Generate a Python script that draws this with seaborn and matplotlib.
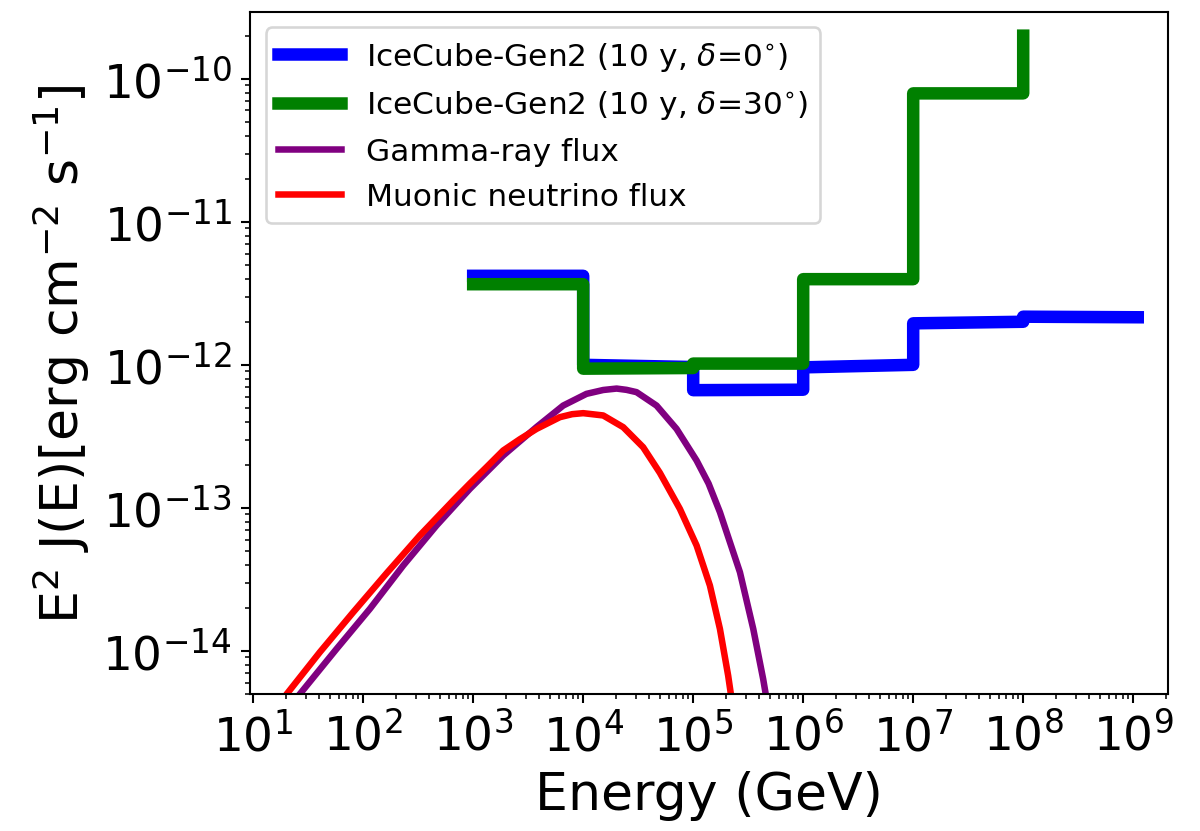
import numpy as np
import pandas as pd
import matplotlib
matplotlib.use("Agg")
import matplotlib.pyplot as plt
from matplotlib.ticker import LogLocator
import seaborn as sns

# =====================================
# DATA
# =====================================

# IceCube-Gen2 sensitivity, 10 y, declination 0 deg (per-decade bins)
icg2_dec0_E = [1e3, 1e4, 1e4, 1e5, 1e5, 1e6, 1e6, 1e7, 1e7, 1e8, 1e8, 1.1e9]
icg2_dec0_F = [4.19e-12, 4.19e-12, 1.0e-12, 0.965e-12, 6.65e-13, 6.7e-13,
               0.96e-12, 1.0e-12, 1.95e-12, 2.0e-12, 2.17e-12, 2.15e-12]

# IceCube-Gen2 sensitivity, 10 y, declination 30 deg
icg2_dec30_E = [1e3, 1e4, 1e4, 1e5, 1e5, 1e6, 1e6, 1e7, 1e7, 1e8, 1e8]
icg2_dec30_F = [3.66e-12, 3.66e-12, 0.94e-12, 0.95e-12, 1.02e-12, 1.02e-12,
                3.97e-12, 3.97e-12, 7.9e-11, 7.9e-11, 2.0e-10]

# gamma-ray flux (log10 E [GeV], log10 E^2 J [erg cm^-2 s^-1])
gamma_logE = [1.425, 1.758, 2.061, 2.364, 2.667, 2.970, 3.273, 3.576, 3.818, 4.030,
              4.182, 4.304, 4.394, 4.485, 4.667, 4.849, 5.031, 5.140, 5.243, 5.425,
              5.546, 5.636, 5.667]
gamma_logF = [-14.301, -13.986, -13.706, -13.403, -13.123, -12.867, -12.634, -12.435, -12.285, -12.203,
              -12.176, -12.166, -12.175, -12.191, -12.285, -12.448, -12.669, -12.830, -13.030, -13.450,
              -13.846, -14.196, -14.336]

# muonic neutrino flux
numu_logE = [1.318, 1.606, 1.909, 2.213, 2.515, 2.818, 2.970, 3.122, 3.273, 3.425,
             3.576, 3.788, 3.900, 4.000, 4.182, 4.364, 4.545, 4.697, 4.879, 5.031,
             5.152, 5.243, 5.318, 5.349]
numu_logF = [-14.289, -14.009, -13.730, -13.457, -13.193, -12.949, -12.830, -12.715, -12.599, -12.520,
             -12.448, -12.366, -12.345, -12.338, -12.354, -12.436, -12.576, -12.755, -13.007, -13.263,
             -13.543, -13.846, -14.173, -14.336]

# =====================================
# PLOT
# =====================================

fig, ax = plt.subplots(figsize=(6.4, 4.4373), dpi=187.5)
fig.subplots_adjust(left=0.2083, right=0.9733, top=0.9847, bottom=0.1647)

blue = pd.DataFrame({"E": icg2_dec0_E, "F": icg2_dec0_F})
green = pd.DataFrame({"E": icg2_dec30_E, "F": icg2_dec30_F})
gamma = pd.DataFrame({"E": 10 ** np.array(gamma_logE), "F": 10 ** np.array(gamma_logF)})
numu = pd.DataFrame({"E": 10 ** np.array(numu_logE), "F": 10 ** np.array(numu_logF)})

sns.lineplot(data=blue, x="E", y="F", ax=ax, color="blue", lw=4.8, sort=False,
             estimator=None, label=r"IceCube-Gen2 (10 y, $\delta$=0$^{\circ}$)")
sns.lineplot(data=green, x="E", y="F", ax=ax, color="green", lw=4.8, sort=False,
             estimator=None, label=r"IceCube-Gen2 (10 y, $\delta$=30$^{\circ}$)")
sns.lineplot(data=gamma, x="E", y="F", ax=ax, color="purple", lw=2.5, sort=False,
             estimator=None, label="Gamma-ray flux")
sns.lineplot(data=numu, x="E", y="F", ax=ax, color="red", lw=2.5, sort=False,
             estimator=None, label="Muonic neutrino flux")

ax.set_xscale("log")
ax.set_yscale("log")
ax.set_xlim(9.35, 2.07e9)
ax.set_ylim(5.0e-15, 2.94e-10)

# one labelled tick per decade on the x axis
ax.xaxis.set_major_locator(LogLocator(base=10, numticks=20))
ax.xaxis.set_minor_locator(LogLocator(base=10, subs=np.arange(2, 10), numticks=20))

ax.set_xlabel("Energy (GeV)", fontsize=20)
ax.set_ylabel(r"E$^2$ J(E)[erg cm$^{-2}$ s$^{-1}$]", fontsize=20)
ax.tick_params(axis="both", which="major", labelsize=18)

ax.legend(loc="upper left", fontsize=12)

plt.savefig("out.png", dpi=187.5)
plt.close()
